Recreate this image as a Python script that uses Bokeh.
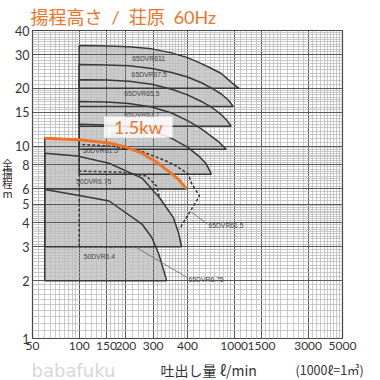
from bokeh.plotting import figure
from bokeh.layouts import row, column
from bokeh.models import FixedTicker, Label, BoxAnnotation, Range1d, Title
from bokeh.core.properties import value
from bokeh.embed import file_html
from bokeh.resources import INLINE

# ---------------- data ----------------
x_ticks = [50, 100, 150, 200, 300, 500, 1000, 1500, 3000, 5000]
x_tick_labels = ["50", "100", "150", "200", "300", "400", "1000", "1500", "3000", "5000"]
y_ticks = [1, 2, 3, 4, 5, 6, 8, 10, 15, 20, 30, 40]
y_tick_labels = ["1", "2", "3", "4", "5", "6", "8", "10", "15", "20", "30", "40"]
x_major_grid = [100, 150, 200, 300, 500, 1000, 1500, 3000]
y_major_grid = [2, 3, 4, 5, 6, 8, 10, 15, 20, 30]

# pump curves: flow (L/min), total head (m); last point lies on the region bottom
q_65dvr611 = [100, 150, 209, 294, 395, 500, 615, 720, 826, 916, 1000, 1077]
h_65dvr611 = [33.4, 33.2, 32.9, 32.1, 30.6, 28.9, 26.9, 25.3, 23.9, 22.2, 20.9, 20.0]
q_65dvr67_5 = [100, 150, 209, 294, 395, 500, 615, 720, 826, 916, 986]
h_65dvr67_5 = [26.6, 26.5, 26.2, 25.4, 24.2, 22.9, 21.4, 20.0, 18.7, 17.4, 16.1]
q_65dvr65_5 = [100, 150, 209, 294, 395, 500, 615, 720, 826, 900, 957]
h_65dvr65_5 = [22.2, 22.1, 21.8, 21.0, 19.8, 18.5, 17.1, 15.9, 14.6, 13.6, 12.7]
q_65dvr63_7 = [100, 150, 209, 294, 395, 507, 615, 720, 800, 889]
h_65dvr63_7 = [17.1, 17.0, 16.7, 16.0, 14.9, 13.5, 12.3, 11.2, 10.5, 9.65]
q_65dvr62_2 = [100, 150, 209, 294, 395, 500, 600, 660, 713]
h_65dvr62_2 = [13.0, 12.9, 12.6, 12.0, 11.0, 9.9, 8.8, 8.1, 7.16]
q_50dvr6_75 = [60, 97, 156, 254, 331, 406, 438, 458]
h_50dvr6_75 = [9.2, 8.9, 8.16, 6.83, 5.38, 4.24, 3.54, 3.0]
q_50dvr6_4 = [60, 100, 156, 254, 294, 326, 367]
h_50dvr6_4 = [5.95, 5.55, 5.19, 3.94, 3.35, 2.76, 2.0]
# highlighted 1.5 kW curve
q_15kw = [60, 78, 100, 156, 200, 254, 320, 378, 440, 493]
h_15kw = [11.0, 10.9, 10.8, 10.4, 9.9, 9.2, 8.2, 7.4, 6.7, 6.0]
# dashed outlines
q_65dvr6_75_top = [100, 100, 189, 273, 316, 331]
h_65dvr6_75_top = [3.0, 7.42, 7.33, 6.99, 6.20, 5.38]
q_65dvr6_75_bottom = [100, 294]
h_65dvr6_75_bottom = [3.0, 3.0]
q_65dvr61_5 = [100, 100, 163, 254, 367, 425, 507, 530, 597, 444]
h_65dvr61_5 = [7.42, 10.24, 10.0, 9.4, 8.36, 7.88, 7.16, 6.43, 5.51, 3.71]

# model labels: text, flow, head
model_names = ["65DVR611", "65DVR67.5", "65DVR65.5", "65DVR63.7", "65DVR62.2",
               "50DVR61.5", "50DVR6.75", "50DVR6.4"]
model_q = [281, 283, 254, 254, 208, 137, 124, 135]
model_h = [28.6, 23.5, 18.9, 14.65, 11.5, 9.48, 6.53, 2.66]
# leader-line labels
leader_names = ["65DVR61.5", "65DVR6.75"]
leader_q0 = [530, 236]
leader_h0 = [4.55, 2.96]
leader_q1 = [672, 500]
leader_h1 = [3.94, 2.07]

title_text = "揚程高さ\u2002/\u2002荘原\u200260Hz"
y_title_chars = ["全", "揚", "程", "m"]
x_title_text = "吐出し量 ℓ/min"
unit_note_text = "(1000ℓ=1㎥)"
watermark_text = "babafuku"

ORANGE = "#f07426"
DARK = "#383838"
TXT = "#333333"
CJK = "Noto Sans CJK JP"


def seq(a, b, s):
    n = int(round((b - a) / s))
    return [round(a + i * s, 6) for i in range(n + 1)]


x_minor = sorted(set(seq(50, 100, 5) + seq(100, 200, 10) + seq(200, 500, 20) +
                     seq(500, 1000, 50) + seq(1000, 2000, 100) + seq(2000, 5000, 200))
                 - set(x_major_grid) - {50, 5000})
y_minor = sorted(set(seq(1, 2, 0.1) + seq(2, 5, 0.1) + seq(5, 10, 0.2) +
                     seq(10, 20, 0.5) + seq(20, 40, 1)) - set(y_major_grid) - {1, 40})

MAIN_H = 358
BOTTOM_H = 380 - MAIN_H

# ---------------- main chart ----------------
p = figure(width=368, height=MAIN_H, x_axis_type="log", y_axis_type="log",
           x_range=Range1d(50, 5000), y_range=Range1d(1, 40),
           output_backend="svg", toolbar_location=None,
           min_border_left=18, min_border_right=38, min_border_top=29, min_border_bottom=20)
p.title = Title(text=title_text, align="left", offset=-2, standoff=6,
                text_font="Lato, Noto Sans CJK JP", text_font_size="18px",
                text_font_style="normal", text_color=ORANGE)
p.background_fill_color = "white"
p.border_fill_color = "white"
p.outline_line_color = "#444444"
p.outline_line_width = 1.2

for ax, ticks, labels in ((p.xaxis[0], x_ticks, x_tick_labels), (p.yaxis[0], y_ticks, y_tick_labels)):
    ax.ticker = FixedTicker(ticks=ticks)
    ax.major_label_overrides = {t: l for t, l in zip(ticks, labels)}
    ax.axis_line_color = None
    ax.major_tick_line_color = None
    ax.minor_tick_line_color = None
    ax.major_tick_out = 0
    ax.major_tick_in = 0
    ax.major_label_text_font = "Lato"
    ax.major_label_text_color = TXT
p.xaxis.major_label_text_font_size = "12px"
p.xaxis.major_label_standoff = 3
p.yaxis.major_label_text_font_size = "12.5px"
p.yaxis.major_label_standoff = 3

p.xgrid.ticker = FixedTicker(ticks=x_major_grid, minor_ticks=x_minor)
p.ygrid.ticker = FixedTicker(ticks=y_major_grid, minor_ticks=y_minor)
for g in (p.xgrid, p.ygrid):
    g.grid_line_color = "#5a5a5a"
    g.grid_line_width = 1
    g.minor_grid_line_color = "#bcbcbc"
    g.minor_grid_line_width = 0.8

solid = [(q_65dvr611, h_65dvr611), (q_65dvr67_5, h_65dvr67_5), (q_65dvr65_5, h_65dvr65_5),
         (q_65dvr63_7, h_65dvr63_7), (q_65dvr62_2, h_65dvr62_2), (q_15kw, h_15kw),
         (q_50dvr6_75, h_50dvr6_75), (q_50dvr6_4, h_50dvr6_4)]

polys_x, polys_y = [], []
for q, h in solid:
    polys_x.append([q[0]] + q + [q[0]])
    polys_y.append([h[-1]] + h + [h[-1]])
p.patches(polys_x, polys_y, fill_color="#cdcdcd", fill_alpha=1, line_color=None, level="image")

for xs, ys in zip(polys_x, polys_y):
    p.line(xs, ys, line_color=DARK, line_width=1.5)

p.line(q_65dvr6_75_top, h_65dvr6_75_top, line_color=DARK, line_width=1.5, line_dash="3 2")
p.line(q_65dvr6_75_bottom, h_65dvr6_75_bottom, line_color=DARK, line_width=1.5, line_dash="3 2")
p.line(q_65dvr61_5, h_65dvr61_5, line_color=DARK, line_width=1.5, line_dash="3 2")

p.line(q_15kw, h_15kw, line_color=ORANGE, line_width=3)

for q0, h0, q1, h1 in zip(leader_q0, leader_h0, leader_q1, leader_h1):
    p.line([q0, q1], [h0, h1], line_color="#666666", line_width=0.8)

for name, q, h in zip(model_names, model_q, model_h):
    p.add_layout(Label(x=q, y=h, text=name, text_align="center", text_baseline="middle",
                       text_font="Liberation Sans", text_font_size="6.8px", text_color="#444444"))
for name, q, h in zip(leader_names, leader_q1, leader_h1):
    p.add_layout(Label(x=q, y=h, text=name, text_align="left", text_baseline="middle",
                       x_offset=1, y_offset=-1.5,
                       text_font="Liberation Sans", text_font_size="6.8px", text_color="#444444"))

p.add_layout(BoxAnnotation(left=144.7, right=400.6, bottom=11.07, top=14.3,
                           fill_color="white", fill_alpha=0.85, line_color=None))
p.add_layout(Label(x=240.8, y=12.58, text="1.5kw", text_align="center", text_baseline="middle",
                   text_font="Lato", text_font_size="18px", text_color=ORANGE))


def strip(w, h):
    # plain canvas in pixel units, y measured upward from the bottom edge
    f = figure(width=w, height=h, x_range=Range1d(0, w), y_range=Range1d(0, h),
               output_backend="svg", toolbar_location=None, min_border=0,
               x_axis_location=None, y_axis_location=None)
    f.outline_line_color = None
    f.background_fill_color = "white"
    f.border_fill_color = "white"
    f.xgrid.visible = False
    f.ygrid.visible = False
    return f


# ---------------- left strip: vertical axis title (stacked characters) ----------------
left = strip(12, MAIN_H)
left.text(x=[7] * len(y_title_chars), y=[MAIN_H - 155, MAIN_H - 166, MAIN_H - 177, MAIN_H - 189],
          text=y_title_chars, angle=0,
          text_align="center", text_baseline="middle", text_font=value(CJK),
          text_font_size="11px", text_color=TXT)

# ---------------- bottom strip: axis title, note, watermark ----------------
bottom = strip(380, BOTTOM_H)
bottom.text(x=[31], y=[BOTTOM_H - 12], text=[watermark_text], text_align="left", text_baseline="middle",
            text_font=value("DejaVu Sans"), text_font_size="18px", text_color="#d8d8d8")
bottom.text(x=[160], y=[BOTTOM_H - 11], text=[x_title_text], text_align="left", text_baseline="middle",
            text_font=value(CJK), text_font_size="14px", text_color=TXT)
bottom.text(x=[295], y=[BOTTOM_H - 11], text=[unit_note_text], text_align="left", text_baseline="middle",
            text_font=value(CJK), text_font_size="12.5px", text_color=TXT)

layout = column(row(left, p, spacing=0), bottom, spacing=0)
open("out.html", "w").write(file_html(layout, INLINE))
